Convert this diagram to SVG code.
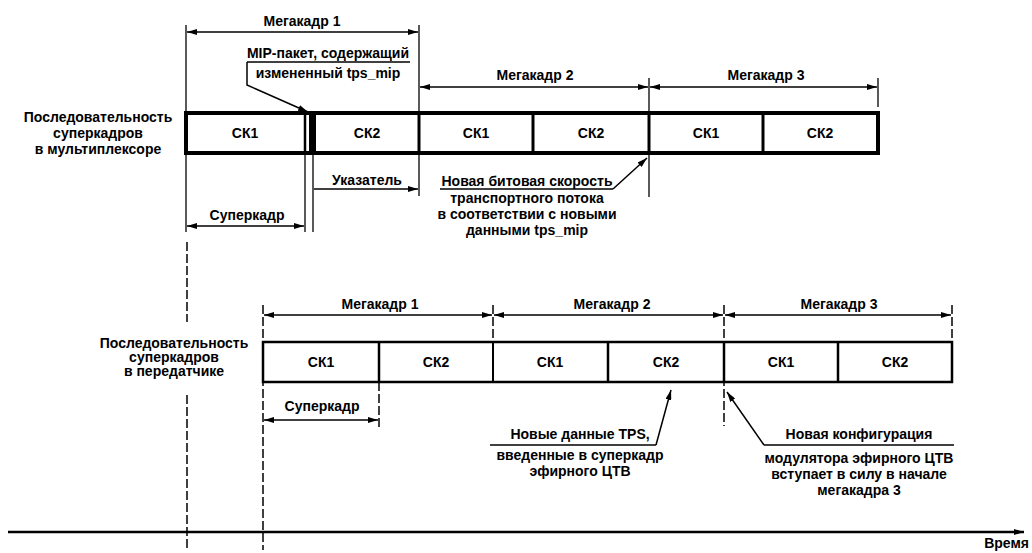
<svg xmlns="http://www.w3.org/2000/svg" width="1032" height="553" viewBox="0 0 1032 553">
<defs>
<marker id="arr" viewBox="0 0 10 6" refX="10" refY="3" markerWidth="10" markerHeight="6" markerUnits="userSpaceOnUse" orient="auto-start-reverse">
<path d="M0,0 L10,3 L0,6 z" fill="#000"/>
</marker>
<style>
text{font-family:"Liberation Sans",Arial,sans-serif;font-weight:bold;font-size:14px;fill:#000;text-anchor:middle}
.box{fill:#fff;stroke:#000}
.div{stroke:#000}
.ext{stroke:#000;stroke-width:1.3;fill:none}
.dash{stroke:#000;stroke-width:1.5;fill:none;stroke-dasharray:9 3}
.dim{stroke:#000;stroke-width:1.5;fill:none;marker-start:url(#arr);marker-end:url(#arr)}
.lead{stroke:#000;stroke-width:1.5;fill:none;marker-end:url(#arr)}
.ul{stroke:#000;stroke-width:1.5;fill:none}
</style>
</defs>
<rect width="1032" height="553" fill="#fff"/>

<g id="connectors">
<line class="ext" x1="186" y1="25" x2="186" y2="232"/>
<line class="dash" x1="187" y1="242" x2="187" y2="322"/>
<line class="dash" x1="187" y1="395" x2="187" y2="548"/>
<line class="ext" x1="419" y1="25" x2="419" y2="196"/>
<line class="ext" x1="649" y1="78" x2="649" y2="197"/>
<line class="ext" x1="878" y1="78" x2="878" y2="107"/>
<line class="ext" x1="305" y1="154" x2="305" y2="232"/>
<line class="ext" x1="313" y1="154" x2="313" y2="232"/>
<line class="dim" x1="187" y1="32" x2="418" y2="32" stroke-width="2"/>
<line class="dim" x1="420" y1="87" x2="648" y2="87" stroke-width="2"/>
<line class="dim" x1="650" y1="87" x2="877" y2="87" stroke-width="2"/>
<line class="dim" x1="187" y1="226" x2="304" y2="226" stroke-width="2"/>
<line class="lead" x1="314" y1="189" x2="418" y2="189"/>
<line class="ul" x1="247" y1="62" x2="410" y2="62"/>
<polyline class="lead" points="247,62 247,85 308,112"/>
<line class="ul" x1="440" y1="189" x2="613" y2="189"/>
<line class="lead" x1="613" y1="189" x2="647" y2="158"/>
<line class="dash" x1="263" y1="305" x2="263" y2="550"/>
<line class="dash" x1="379" y1="382" x2="379" y2="428"/>
<line class="dash" x1="493" y1="305" x2="493" y2="345"/>
<line class="dash" x1="724" y1="305" x2="724" y2="426"/>
<line class="dash" x1="952" y1="305" x2="952" y2="345"/>
<line class="dim" x1="264" y1="315" x2="492" y2="315"/>
<line class="dim" x1="494" y1="315" x2="723" y2="315"/>
<line class="dim" x1="725" y1="315" x2="951" y2="315"/>
<line class="dim" x1="264" y1="420" x2="378" y2="420"/>
<line class="ul" x1="490" y1="445" x2="656" y2="445"/>
<line class="lead" x1="656" y1="445" x2="671" y2="390"/>
<line class="ul" x1="764" y1="445" x2="954" y2="445"/>
<line class="lead" x1="764" y1="445" x2="727" y2="392"/>
<line x1="8" y1="532" x2="1024" y2="532" stroke="#000" stroke-width="2.5" marker-end="url(#arr)"/>
</g>

<g id="mux-sequence">
<rect class="box" x="186" y="113" width="692" height="40" stroke-width="4"/>
<line class="div" x1="305" y1="113" x2="305" y2="153" stroke-width="2.5"/>
<rect x="309" y="113" width="7" height="40" fill="#000"/>
<line class="div" x1="419" y1="113" x2="419" y2="153" stroke-width="3"/>
<line class="div" x1="533" y1="113" x2="533" y2="153" stroke-width="3"/>
<line class="div" x1="649" y1="113" x2="649" y2="153" stroke-width="3"/>
<line class="div" x1="763" y1="113" x2="763" y2="153" stroke-width="3"/>
<text x="245" y="138">СК1</text>
<text x="367" y="138">СК2</text>
<text x="476" y="138">СК1</text>
<text x="591" y="138">СК2</text>
<text x="706" y="138">СК1</text>
<text x="820" y="138">СК2</text>
</g>

<g id="mux-label">
<text x="98" y="122">Последовательность</text>
<text x="98" y="138">суперкадров</text>
<text x="98" y="154">в мультиплексоре</text>
</g>

<g id="tx-sequence">
<rect class="box" x="263" y="342" width="689" height="40" stroke-width="2.5"/>
<line class="div" x1="379" y1="342" x2="379" y2="382" stroke-width="2.5"/>
<line class="div" x1="493" y1="342" x2="493" y2="382" stroke-width="2"/>
<line class="div" x1="608" y1="342" x2="608" y2="382" stroke-width="2.5"/>
<line class="div" x1="724" y1="342" x2="724" y2="382" stroke-width="2.5"/>
<line class="div" x1="838" y1="342" x2="838" y2="382" stroke-width="2.5"/>
<text x="321" y="367">СК1</text>
<text x="436" y="367">СК2</text>
<text x="550" y="367">СК1</text>
<text x="666" y="367">СК2</text>
<text x="781" y="367">СК1</text>
<text x="895" y="367">СК2</text>
</g>

<g id="tx-label">
<text x="174" y="348">Последовательность</text>
<text x="174" y="362">суперкадров</text>
<text x="174" y="376">в передатчике</text>
</g>

<g id="labels-top">
<text x="302" y="26">Мегакадр 1</text>
<text x="535" y="80">Мегакадр 2</text>
<text x="766" y="80">Мегакадр 3</text>
<text x="328" y="58">MIP-пакет, содержащий</text>
<text x="328" y="78">измененный tps_mip</text>
<text x="367" y="185">Указатель</text>
<text x="247" y="220">Суперкадр</text>
<text x="527" y="186">Новая битовая скорость</text>
<text x="527" y="203">транспортного потока</text>
<text x="527" y="219">в соответствии с новыми</text>
<text x="527" y="235">данными tps_mip</text>
</g>

<g id="labels-bottom">
<text x="380" y="309">Мегакадр 1</text>
<text x="612" y="309">Мегакадр 2</text>
<text x="839" y="309">Мегакадр 3</text>
<text x="322" y="411">Суперкадр</text>
<text x="580" y="439">Новые данные TPS,</text>
<text x="580" y="460">введенные в суперкадр</text>
<text x="580" y="476">эфирного ЦТВ</text>
<text x="859" y="439">Новая конфигурация</text>
<text x="859" y="463">модулятора эфирного ЦТВ</text>
<text x="859" y="479">вступает в силу в начале</text>
<text x="859" y="495">мегакадра 3</text>
<text x="1029" y="548" style="text-anchor:end">Время</text>
</g>
</svg>
